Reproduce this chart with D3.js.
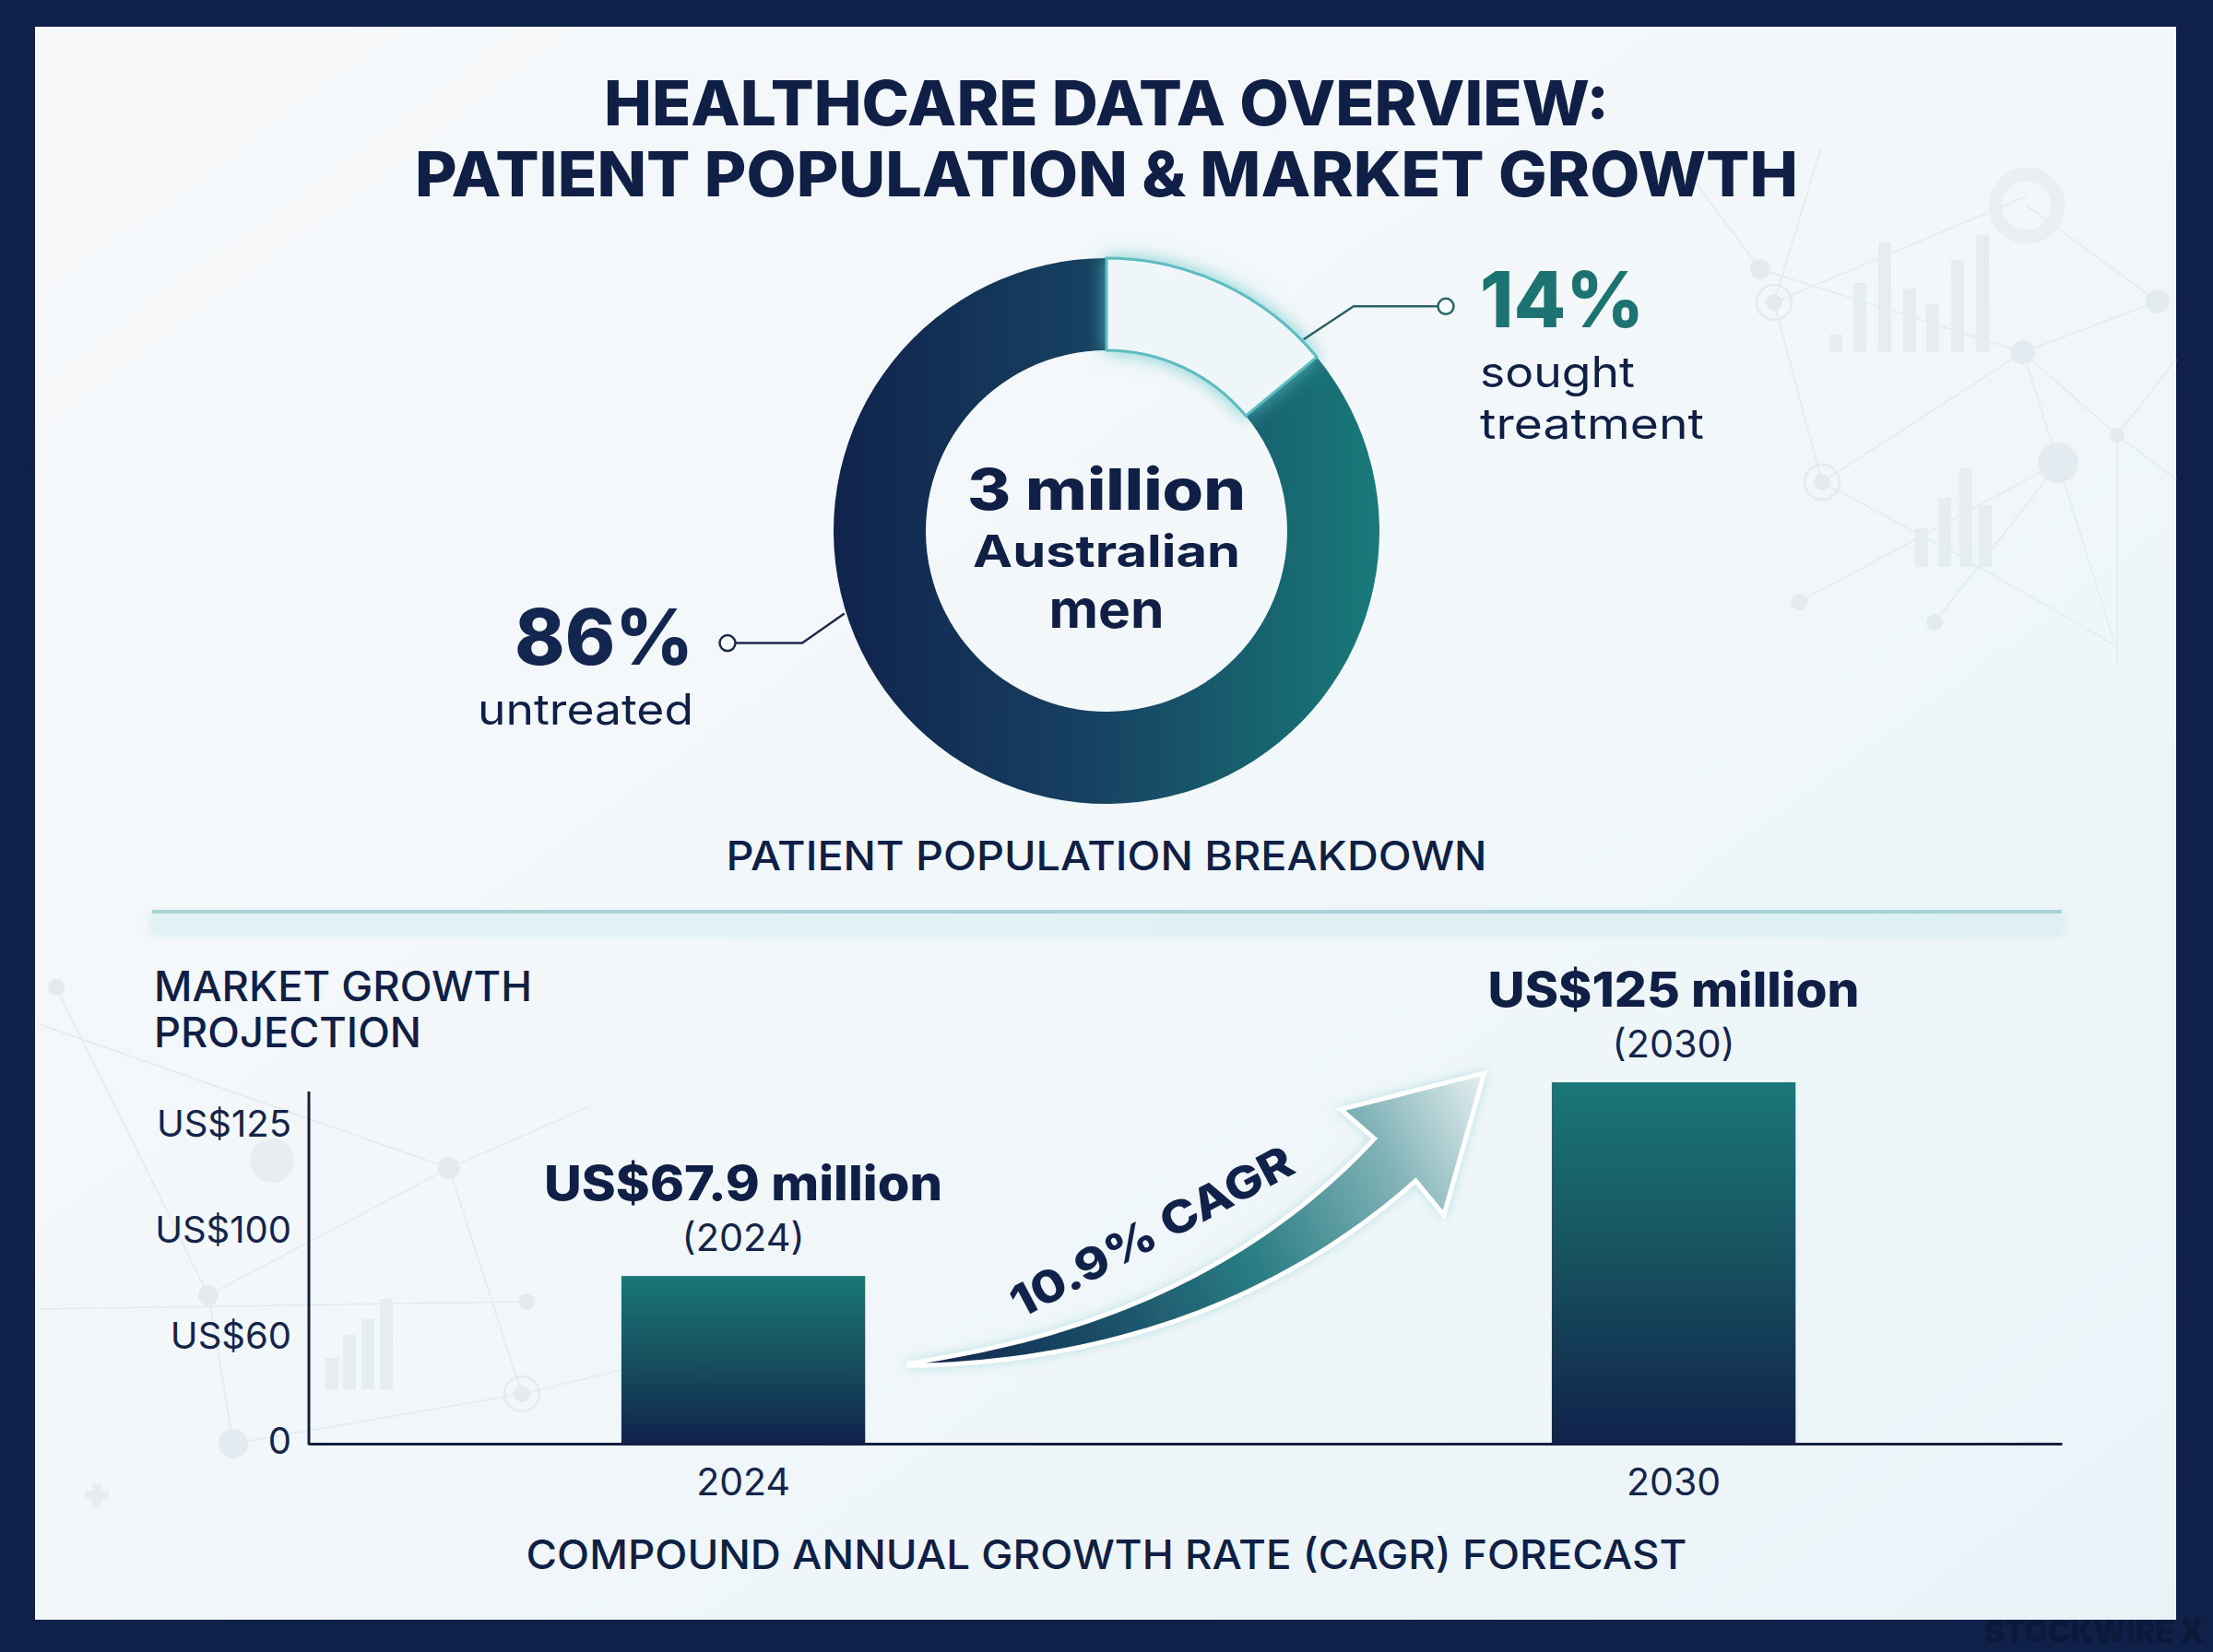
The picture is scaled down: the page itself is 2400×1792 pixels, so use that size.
<!DOCTYPE html>
<html>
<head>
<meta charset="utf-8">
<script src="https://cdn.jsdelivr.net/npm/d3@7"></script>
<style>
  body { margin: 0; background: #0f2149; }
  svg { display: block; }
  text { font-family: Inter, "Noto Sans", sans-serif; }
</style>
</head>
<body>
<script>
const W = 2400;
const H = 1792;

// ---- data ----
const segLabels = ["sought treatment", "untreated"];
const segValues = [14, 86];
const years = ["2024", "2030"];
const marketValues = [67.9, 125];
const valueLabels = ["US$67.9 million", "US$125 million"];
const yTickLabels = ["0", "US$60", "US$100", "US$125"];
const cagrLabel = "10.9% CAGR";

const navy = "#0f1f45";
const ink = "#14244b";

const svg = d3.select("body").append("svg")
    .attr("width", W)
    .attr("height", H);
const defs = svg.append("defs");

function gradient(id, x1, y1, x2, y2, stops, user) {
    const g = defs.append("linearGradient").attr("id", id)
        .attr("x1", x1).attr("y1", y1).attr("x2", x2).attr("y2", y2);
    if (user) g.attr("gradientUnits", "userSpaceOnUse");
    stops.forEach(s => g.append("stop").attr("offset", s[0]).attr("stop-color", s[1]));
}

function shadow(id, color, dev, op) {
    const f = defs.append("filter").attr("id", id)
        .attr("x", "-30%").attr("y", "-30%").attr("width", "160%").attr("height", "160%");
    f.append("feDropShadow").attr("dx", 0).attr("dy", 0)
        .attr("stdDeviation", dev).attr("flood-color", color).attr("flood-opacity", op);
}

// simple text helper; len forces the width seen in the picture
function label(g, x, y, str, size, weight, anchor, fill, len) {
    const t = g.append("text")
        .attr("x", x).attr("y", y)
        .attr("font-size", size)
        .attr("font-weight", weight)
        .attr("text-anchor", anchor)
        .attr("fill", fill)
        .text(str);
    if (len) t.attr("textLength", len).attr("lengthAdjust", "spacingAndGlyphs");
    return t;
}

// multi-line label as one text element, one tspan per line
function block(g, x, anchor, lines) {
    const t = g.append("text").attr("text-anchor", anchor);
    lines.forEach(l => {
        const s = t.append("tspan")
            .attr("x", x).attr("y", l.y)
            .attr("font-size", l.size)
            .attr("font-weight", l.weight)
            .attr("fill", l.fill)
            .text(l.str);
        if (l.len) s.attr("textLength", l.len).attr("lengthAdjust", "spacingAndGlyphs");
    });
    return t;
}

const cx = 1200, cy = 576, rOut = 296, rIn = 196;

gradient("panelBg", 0, 0, 1, 1, [[0, "#f6f8fa"], [0.5, "#f2f7f9"], [1, "#e9f3f7"]]);
gradient("ringGrad", -rOut, 0, rOut, 0, [[0, "#10234c"], [0.45, "#163f60"], [1, "#197a7a"]], true);
gradient("barGrad", 0, 0, 0, 1, [[0, "#1a7778"], [0.5, "#17505f"], [1, "#10224b"]]);
shadow("tealGlow", "#5cc3c8", 10, 0.8);
shadow("softGlow", "#8fd3d8", 6, 0.6);

// ---- frame ----
svg.append("rect").attr("width", W).attr("height", H).attr("fill", "#0f2149");
svg.append("rect")
    .attr("x", 38).attr("y", 29)
    .attr("width", 2322).attr("height", 1728)
    .attr("fill", "url(#panelBg)");

// ---- faint background network ----
const faint = "#e4ebf0";
const deco = svg.append("g").attr("stroke", faint).attr("stroke-width", 1.6).attr("fill", "none");
const decoLines = [
    [[1840, 200], [1909, 292]], [[1909, 292], [2194, 382]], [[1924, 328], [2198, 213]],
    [[1924, 328], [1976, 523]], [[1976, 523], [2194, 382]], [[2194, 382], [2340, 327]],
    [[2194, 382], [2232, 502]], [[2194, 382], [2296, 472]], [[2232, 502], [2294, 700]],
    [[2296, 472], [2296, 720]], [[2296, 472], [2360, 390]], [[2296, 472], [2360, 520]],
    [[2340, 327], [2198, 223]], [[1976, 523], [2120, 600]], [[1951, 653], [2232, 502]],
    [[2098, 675], [2221, 518]], [[1924, 328], [1975, 160]], [[2120, 600], [2294, 700]],
    [[40, 1110], [487, 1267]], [[226, 1405], [487, 1267]], [[487, 1267], [566, 1512]],
    [[40, 1420], [571, 1412]], [[226, 1405], [253, 1566]], [[566, 1512], [700, 1480]],
    [[61, 1071], [226, 1405]], [[253, 1566], [566, 1512]], [[487, 1267], [640, 1200]]
];
decoLines.forEach(l => deco.append("line")
    .attr("x1", l[0][0]).attr("y1", l[0][1]).attr("x2", l[1][0]).attr("y2", l[1][1]));
const decoNodes = [
    [1909, 292, 11], [2194, 382, 13], [2340, 327, 13], [2232, 502, 22], [2296, 472, 8],
    [1951, 653, 9], [2098, 675, 9], [487, 1267, 12], [226, 1405, 11], [571, 1412, 9],
    [253, 1566, 16], [61, 1071, 9]
];
decoNodes.forEach(n => svg.append("circle").attr("cx", n[0]).attr("cy", n[1]).attr("r", n[2]).attr("fill", faint));
[[1924, 328, 19], [1976, 523, 19], [566, 1512, 19]].forEach(n => {
    svg.append("circle").attr("cx", n[0]).attr("cy", n[1]).attr("r", n[2])
        .attr("fill", "none").attr("stroke", faint).attr("stroke-width", 2.5);
    svg.append("circle").attr("cx", n[0]).attr("cy", n[1]).attr("r", 9).attr("fill", faint);
});
svg.append("circle").attr("cx", 2198).attr("cy", 223).attr("r", 34)
    .attr("fill", "none").attr("stroke", "#e9eff3").attr("stroke-width", 15);
svg.append("circle").attr("cx", 295).attr("cy", 1259).attr("r", 24).attr("fill", "#e7edf1");
const decoBars = [
    [1984, 363, 382], [2010, 307, 382], [2037, 263, 382], [2064, 313, 382],
    [2089, 330, 382], [2116, 282, 382], [2143, 255, 382],
    [2077, 573, 615], [2102, 540, 615], [2125, 508, 615], [2146, 548, 615],
    [353, 1473, 1507], [372, 1448, 1507], [392, 1430, 1507], [412, 1409, 1507]
];
decoBars.forEach(b => svg.append("rect").attr("x", b[0]).attr("y", b[1])
    .attr("width", 14).attr("height", b[2] - b[1]).attr("fill", "#e6edf1"));
svg.append("path").attr("d", "M92,1622h26M105,1609v26").attr("stroke", "#e6ecf0").attr("stroke-width", 9);

// ---- title ----
block(svg, 1200, "middle", [
    {y: 136, str: "HEALTHCARE DATA OVERVIEW:", size: 67, weight: 800, fill: navy, len: 1090},
    {y: 213, str: "PATIENT POPULATION & MARKET GROWTH", size: 67, weight: 800, fill: navy, len: 1500}
]);

// ---- donut ----
const pie = d3.pie().sort(null).value(d => d)(segValues);
const arc = d3.arc().innerRadius(rIn).outerRadius(rOut);
const donut = svg.append("g").attr("transform", `translate(${cx},${cy})`);

donut.append("path").datum(pie[1])
    .attr("d", arc)
    .attr("fill", "url(#ringGrad)");

donut.append("path").datum(pie[0])
    .attr("d", arc)
    .attr("fill", "#eef6fa")
    .attr("stroke", "#5dbcc0")
    .attr("stroke-width", 3)
    .attr("filter", "url(#tealGlow)");

block(donut, 0, "middle", [
    {y: -23, str: "3 million", size: 62, weight: 800, fill: navy, len: 302},
    {y: 39, str: "Australian", size: 48, weight: 700, fill: navy, len: 290},
    {y: 105, str: "men", size: 56, weight: 700, fill: navy, len: 125}
]);

// leader lines
const leaders = [
    {angle: pie[0].endAngle - 0.08, elbowX: 268, end: 368, color: "#2c6367"},
    {angle: 4.407, elbowX: -330, end: -411, color: "#1c2b4a"}
];
leaders.forEach(l => {
    const px = Math.sin(l.angle) * (rOut + 2);
    const py = -Math.cos(l.angle) * (rOut + 2);
    const ey = l.elbowX > 0 ? py - 36 : py + 32;
    const dir = Math.sign(l.end);
    donut.append("path")
        .attr("d", `M${px},${py}L${l.elbowX},${ey}H${l.end - dir * 9}`)
        .attr("fill", "none").attr("stroke", l.color).attr("stroke-width", 2.5);
    donut.append("circle").attr("cx", l.end).attr("cy", ey).attr("r", 8.5)
        .attr("fill", "#f7fafb").attr("stroke", l.color).attr("stroke-width", 2.5);
});

const pct = d3.format(".0f");
const soughtWords = segLabels[0].split(" ");
block(svg, 1605, "start", [
    {y: 355, str: pct(segValues[0]) + "%", size: 84, weight: 800, fill: "#1d7272", len: 178},
    {y: 420, str: soughtWords[0], size: 46, weight: 400, fill: navy, len: 168},
    {y: 476, str: soughtWords[1], size: 46, weight: 400, fill: navy, len: 243}
]);
block(svg, 752, "end", [
    {y: 721, str: pct(segValues[1]) + "%", size: 84, weight: 800, fill: "#13264f", len: 194},
    {y: 786, str: segLabels[1], size: 46, weight: 400, fill: navy, len: 234}
]);

label(svg, 1200, 944, "PATIENT POPULATION BREAKDOWN", 44, 500, "middle", navy, 825);

// divider
svg.append("rect").attr("x", 165).attr("y", 991).attr("width", 2071).attr("height", 22)
    .attr("fill", "#d6eef1").attr("opacity", 0.6).attr("filter", "url(#softGlow)");
svg.append("line").attr("x1", 165).attr("x2", 2236).attr("y1", 989).attr("y2", 989)
    .attr("stroke", "#a5d3d6").attr("stroke-width", 4);

// ---- bar chart ----
block(svg, 167, "start", [
    {y: 1086, str: "MARKET GROWTH", size: 45, weight: 500, fill: navy, len: 410},
    {y: 1136, str: "PROJECTION", size: 45, weight: 500, fill: navy, len: 290}
]);

const baseY = 1566;
const x = d3.scaleBand().domain(years).range([335, 2236])
    .paddingInner(0.738).paddingOuter(0.311).align(0.54);
// the picture's bars are not zero-based on the drawn axis line, so the
// value scale runs past it; bars are cut at baseY
const y = d3.scaleLinear().domain([0, 125]).range([1634, 1174]);
// tick labels sit evenly spaced in the picture
const yLab = d3.scalePoint().domain(yTickLabels).range([1564, 1220]);

const chart = svg.append("g");

chart.selectAll(".bar")
    .data(marketValues)
    .enter().append("rect")
    .attr("class", "bar")
    .attr("x", (d, i) => x(years[i]))
    .attr("y", d => y(d))
    .attr("width", x.bandwidth())
    .attr("height", d => baseY - y(d))
    .attr("fill", "url(#barGrad)");

const yAxis = chart.append("g")
    .attr("transform", "translate(316,0)")
    .call(d3.axisLeft(yLab).tickSize(0).tickPadding(0));
yAxis.select(".domain").remove();
yAxis.selectAll("text")
    .attr("font-size", 40).attr("font-family", "Inter, 'Noto Sans', sans-serif")
    .attr("font-weight", 400).attr("fill", ink);

chart.append("line").attr("x1", 335).attr("x2", 335).attr("y1", 1184).attr("y2", baseY + 1.5)
    .attr("stroke", "#13213f").attr("stroke-width", 3);

const xAxis = chart.append("g")
    .attr("transform", `translate(0,${baseY})`)
    .call(d3.axisBottom(x).tickSize(0).tickSizeOuter(0).tickPadding(27));
xAxis.select(".domain").attr("stroke", "#13213f").attr("stroke-width", 3);
xAxis.selectAll("text")
    .attr("font-size", 41).attr("font-family", "Inter, 'Noto Sans', sans-serif")
    .attr("font-weight", 400).attr("fill", ink);

// value labels above bars
marketValues.forEach((v, i) => {
    const mx = x(years[i]) + x.bandwidth() / 2;
    block(chart, mx, "middle", [
        {y: y(v) - 82, str: valueLabels[i], size: 52, weight: 800, fill: navy, len: i === 0 ? 432 : 403},
        {y: y(v) - 27, str: `(${years[i]})`, size: 41, weight: 400, fill: ink, len: 133}
    ]);
});

// ---- CAGR arrow ----
const T = [x(years[0]) + x.bandwidth() + 47, y(marketValues[0]) + 96];
const N = [x(years[1]) - 170, y(marketValues[1]) + 84];
const C = [T[0] + 326, T[1] - 26];
const qp = t => [
    (1 - t) * (1 - t) * T[0] + 2 * t * (1 - t) * C[0] + t * t * N[0],
    (1 - t) * (1 - t) * T[1] + 2 * t * (1 - t) * C[1] + t * t * N[1]
];
const qd = t => {
    const dx = 2 * (1 - t) * (C[0] - T[0]) + 2 * t * (N[0] - C[0]);
    const dy = 2 * (1 - t) * (C[1] - T[1]) + 2 * t * (N[1] - C[1]);
    const l = Math.hypot(dx, dy);
    return [dx / l, dy / l];
};
const upper = [], lower = [];
d3.range(0, 1.0001, 0.025).forEach(t => {
    const p = qp(t), d = qd(t);
    const n = [d[1], -d[0]];
    const hw = 1 + 31 * Math.pow(t, 0.85);
    upper.push([p[0] + n[0] * hw, p[1] + n[1] * hw]);
    lower.push([p[0] - n[0] * hw, p[1] - n[1] * hw]);
});
const tn = qd(1), nn = [tn[1], -tn[0]];
const tip = [N[0] + tn[0] * 135, N[1] + tn[1] * 135];
const hl = [N[0] + nn[0] * 80 - tn[0] * 4, N[1] + nn[1] * 80 - tn[1] * 4];
const hr = [N[0] - nn[0] * 80 - tn[0] * 4, N[1] - nn[1] * 80 - tn[1] * 4];
const arrowPts = upper.concat([hl, tip, hr]).concat(lower.slice().reverse());

gradient("arrowGrad", T[0], T[1], tip[0], tip[1],
    [[0, "#0f2249"], [0.3, "#1b4f68"], [0.55, "#2a7d84"], [0.8, "#7fb2b6"], [1, "#e6eff1"]], true);

chart.append("path")
    .attr("d", d3.line()(arrowPts) + "Z")
    .attr("fill", "url(#arrowGrad)")
    .attr("stroke", "#ffffff")
    .attr("stroke-width", 5)
    .attr("stroke-linejoin", "miter")
    .attr("filter", "url(#softGlow)");

label(chart, 0, 0, cagrLabel, 48, 800, "middle", "#10224a", 340)
    .attr("transform", "translate(1257,1351) rotate(-28)");

label(svg, 1200, 1702, "COMPOUND ANNUAL GROWTH RATE (CAGR) FORECAST", 44, 500, "middle", navy, 1259);

// watermark on the frame
label(svg, 2390, 1782, "STOCKWIRE X", 34, 900, "end", "#0b1a3b", 238);
</script>
</body>
</html>
